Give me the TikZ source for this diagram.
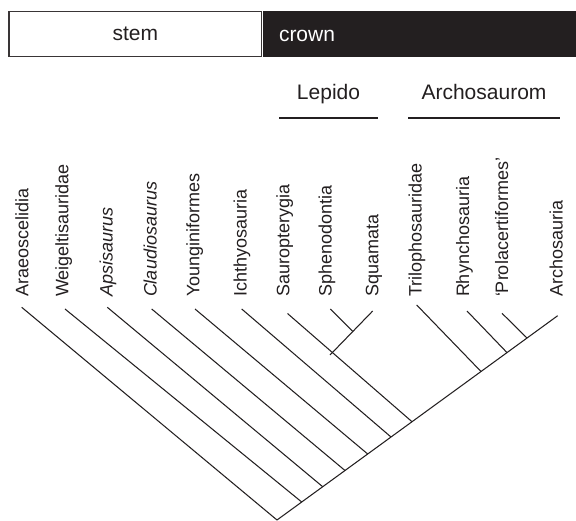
\documentclass[tikz,border=0pt]{standalone}
\usepackage{fontspec}
\setmainfont{Liberation Sans}
\definecolor{ink}{HTML}{231F20}
\begin{document}
\begin{tikzpicture}[x=1pt,y=-1pt,
  branch/.style={draw=ink,line width=1.05pt,line cap=butt},
  tip/.style={rotate=90,anchor=base west,inner sep=0pt,outer sep=0pt,font=\fontsize{18}{20}\selectfont,text=ink},
  head/.style={anchor=base,inner sep=0pt,outer sep=0pt,font=\fontsize{21}{24}\selectfont,text=ink},
  stembox/.style={draw=ink!90,line width=1.2pt,minimum width=252.5pt,minimum height=45.5pt,inner sep=0pt,font=\fontsize{21}{24}\selectfont,text=ink},
  crownbox/.style={fill=ink,draw=none,minimum width=313.5pt,minimum height=46.3pt,inner sep=0pt}]
\useasboundingbox (0,0) rectangle (576,521);
\fill[white] (0,0) rectangle (576,521);
% bar
\node[stembox] (stem) at (135.3,34) {stem};
\node[crownbox] (crownbar) at (419.25,34) {};
\node[head,anchor=base west,text=white] (crown) at (279,42) {crown};
% group headers
\node[head] (lepido) at (328.5,100) {Lepido};
\node[head] (archo) at (484,100) {Archosaurom};
\coordinate (lepL) at (279,118);
\coordinate (lepR) at (378,118);
\coordinate (arcL) at (408,118);
\coordinate (arcR) at (560,118);
\draw[branch] (lepL) -- (lepR);
\draw[branch] (arcL) -- (arcR);
% tip labels
\node[tip] (t1) at (28.3,297) {Araeoscelidia};
\node[tip] (t2) at (68.3,297) {Weigeltisauridae};
\node[tip] (t3) at (112.7,297) {\itshape Apsisaurus};
\node[tip] (t4) at (156.7,297) {\itshape Claudiosaurus};
\node[tip] (t5) at (199.3,297) {Younginiformes};
\node[tip] (t6) at (246.7,297) {Ichthyosauria};
\node[tip] (t7) at (289.3,297) {Sauropterygia};
\node[tip] (t8) at (331.7,297) {Sphenodontia};
\node[tip] (t9) at (378.3,297) {Squamata};
\node[tip] (t10) at (421.7,297) {Trilophosauridae};
\node[tip] (t11) at (469,297) {Rhynchosauria};
\node[tip] (t12) at (508,297) {‘Prolacertiformes’};
\node[tip] (t13) at (562.7,297) {Archosauria};
% branch tips
\coordinate (b1) at (21.7,307.3);
\coordinate (b2) at (65,309);
\coordinate (b3) at (107.3,307.3);
\coordinate (b4) at (151.7,309);
\coordinate (b5) at (195,309);
\coordinate (b6) at (241.7,309);
\coordinate (b7) at (287.5,313.5);
\coordinate (b8) at (330.3,309);
\coordinate (b9) at (372.7,311);
\coordinate (b10) at (416.7,305);
\coordinate (b11) at (467,311);
\coordinate (b12) at (502,313.3);
\coordinate (b13) at (557.7,315.7);
% internal nodes
\coordinate (root) at (277,520);
\coordinate (n2) at (301.7,502.0);
\coordinate (n3) at (322.7,486.7);
\coordinate (n4) at (345,470.5);
\coordinate (n5) at (367.7,454.0);
\coordinate (n6) at (391,437.0);
\coordinate (n7) at (412,421.7);
\coordinate (n10) at (481,371.5);
\coordinate (n11) at (507,352.6);
\coordinate (n12) at (527,338.0);
\coordinate (lep) at (352.7,331.3);
\coordinate (lepbase) at (330,355);
% spine
\draw[branch] (root) -- (b13);
\draw[branch] (b1) -- (root);
\draw[branch] (b2) -- (n2);
\draw[branch] (b3) -- (n3);
\draw[branch] (b4) -- (n4);
\draw[branch] (b5) -- (n5);
\draw[branch] (b6) -- (n6);
\draw[branch] (b7) -- (n7);
\draw[branch] (b8) -- (lep);
\draw[branch] (b9) -- (lepbase);
\draw[branch] (b10) -- (n10);
\draw[branch] (b11) -- (n11);
\draw[branch] (b12) -- (n12);
\end{tikzpicture}
\end{document}
